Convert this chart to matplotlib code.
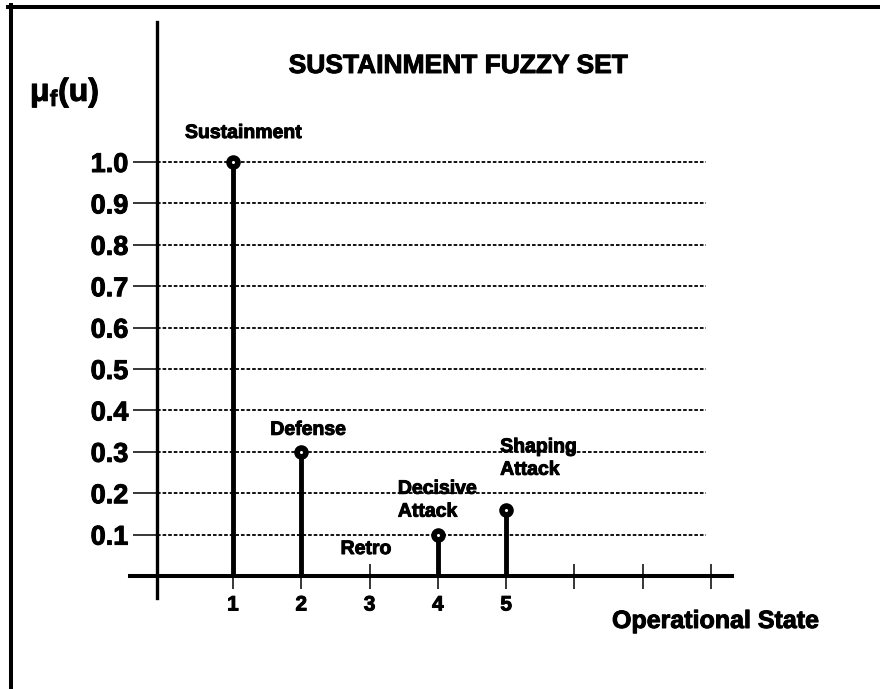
import matplotlib
matplotlib.use('Agg')
import matplotlib.pyplot as plt
import matplotlib.patheffects as pe
from matplotlib.lines import Line2D

# Data
states = [1, 2, 3, 4, 5]
membership = [1.0, 0.3, 0.0, 0.1, 0.16]
state_names = ['Sustainment', 'Defense', 'Retro', 'Decisive\nAttack', 'Shaping\nAttack']
x_ticks = [1, 2, 3, 4, 5, 6, 7, 8]
x_tick_labels = ['1', '2', '3', '4', '5', '', '', '']
y_ticks = [0.1, 0.2, 0.3, 0.4, 0.5, 0.6, 0.7, 0.8, 0.9, 1.0]
y_tick_labels = ['0.1', '0.2', '0.3', '0.4', '0.5', '0.6', '0.7', '0.8', '0.9', '1.0']

# where each state label sits relative to the top of its stem (pixels)
label_offsets = [(-48, 24), (-31, 17), (-29, 22), (-40, 18), (-6, 35)]

plt.rcParams['font.family'] = ['Liberation Sans', 'DejaVu Sans']
plt.rcParams['font.weight'] = 'bold'
plt.rcParams['mathtext.fontset'] = 'custom'
plt.rcParams['mathtext.rm'] = 'Liberation Sans:bold'
plt.rcParams['mathtext.it'] = 'Liberation Sans:bold'
plt.rcParams['mathtext.bf'] = 'Liberation Sans:bold'

# slightly heavier strokes for the text, like the original
heavy = [pe.withStroke(linewidth=0.7, foreground='k')]

fig = plt.figure(figsize=(8.8, 6.89), dpi=100)
ax = fig.add_axes([0, 0, 1, 1])
ax.set_xlim(-2.412, 10.474)
ax.set_ylim(-0.2729, 1.3913)
ax.patch.set_visible(False)

# axes as crossing lines
ax.spines['top'].set_visible(False)
ax.spines['right'].set_visible(False)
ax.spines['left'].set_position(('data', -0.113))
ax.spines['left'].set_bounds(-0.053, 1.338)
ax.spines['left'].set_linewidth(2.4)
ax.spines['bottom'].set_position(('data', 0))
ax.spines['bottom'].set_bounds(-0.508, 8.307)
ax.spines['bottom'].set_linewidth(2.9)

ax.set_xticks(x_ticks)
ax.set_xticklabels(x_tick_labels)
ax.set_yticks(y_ticks)
ax.set_yticklabels(y_tick_labels)
ax.tick_params(axis='x', direction='inout', length=18, width=1.1, pad=5, labelsize=15)
ax.tick_params(axis='y', direction='out', length=17.3, width=1.1, pad=3.2, labelsize=19.5)
for lab in ax.get_xticklabels() + ax.get_yticklabels():
    lab.set_path_effects(heavy)

# dotted level lines
ax.hlines(y_ticks, -0.113, 7.93, colors='k', lw=1.3, linestyles=(0, (2.0, 1.1)), zorder=1)

# stems with dark knob markers (small light centre)
ax.vlines(states, 0, membership, colors='k', lw=3.5, zorder=3)
pts = [(s, m) for s, m in zip(states, membership) if m > 0]
px = [p[0] for p in pts]
py = [p[1] for p in pts]
ax.plot(px, py, 'o', ms=10.5, mfc='black', mec='black', mew=0, zorder=4)
ax.plot(px, py, 'o', ms=2.2, mfc='white', mec='white', mew=0, zorder=5)

for s, m, name, off in zip(states, membership, state_names, label_offsets):
    ax.annotate(name, (s, m), xytext=off, textcoords='offset pixels',
                ha='left', va='baseline', fontsize=14, fontweight='bold',
                linespacing=1.45, path_effects=heavy)

# titles
fig.text(458 / 880, 1 - 73 / 689, 'SUSTAINMENT FUZZY SET', ha='center',
         va='baseline', fontsize=19, fontweight='bold', path_effects=heavy)
fig.text(612 / 880, 1 - 628 / 689, 'Operational State', ha='left',
         va='baseline', fontsize=18, fontweight='bold', path_effects=heavy)
fig.text(30 / 880, 1 - 101 / 689, r'$\mathrm{μ}_{\mathrm{f}}\mathrm{(u)}$',
         ha='left', va='baseline', fontsize=23, path_effects=heavy)

# frame on top and left edge
fig.add_artist(Line2D([8 / 880, 1], [1 - 7 / 689, 1 - 7 / 689],
                      transform=fig.transFigure, lw=2.9, color='k'))
fig.add_artist(Line2D([11 / 880, 11 / 880], [0, 1 - 5 / 689],
                      transform=fig.transFigure, lw=2.9, color='k'))

fig.savefig('out.png', dpi=100)
